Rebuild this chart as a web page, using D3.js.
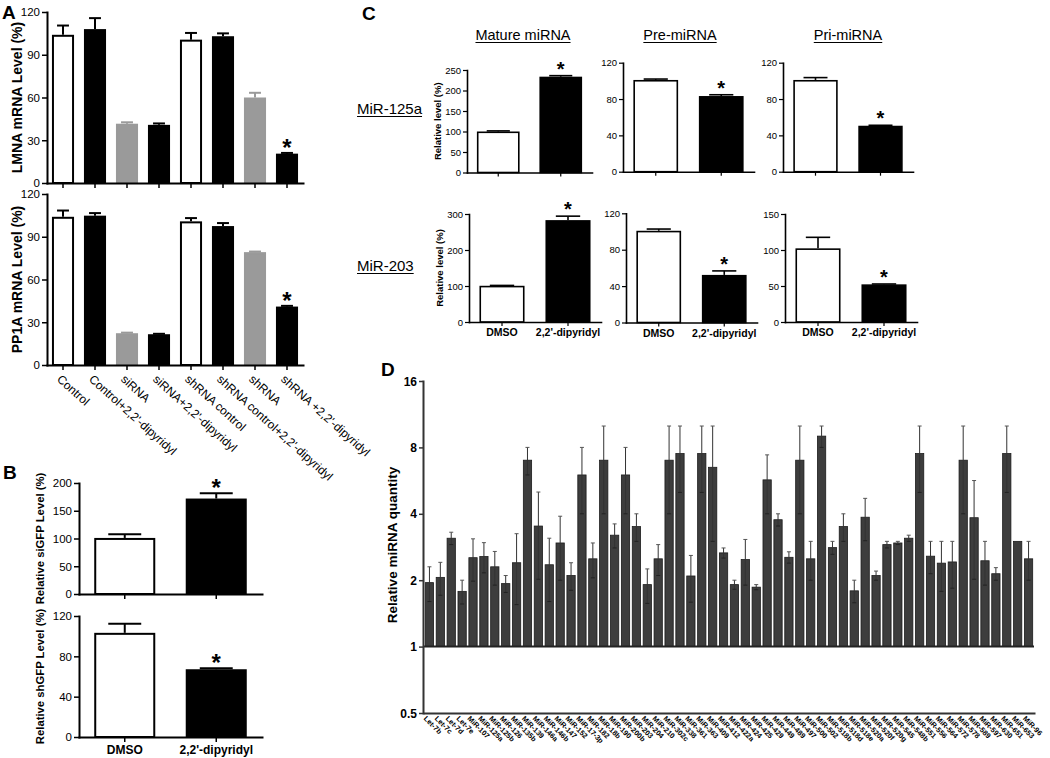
<!DOCTYPE html>
<html>
<head>
<meta charset="utf-8">
<script src="https://cdn.jsdelivr.net/npm/d3@7"></script>
<style>
body { margin: 0; background: #fff; }
svg { display: block; font-family: "Liberation Sans", Arial, Helvetica, sans-serif; }
</style>
</head>
<body>
<svg id="fig" width="1050" height="758"></svg>
<script>

// ---- panel A : knockdown groups
var aLabels = ["Control", "Control+2,2'-dipyridyl", "siRNA", "siRNA+2,2'-dipyridyl",
               "shRNA control", "shRNA control+2,2'-dipyridyl", "shRNA", "shRNA +2,2'-dipyridyl"];
var aKind   = ["open", "solid", "grey", "solid", "open", "solid", "grey", "solid"];
var aStar   = [0, 0, 0, 0, 0, 0, 0, 1];
var lmnaMean = [104, 108, 41.6, 40.8, 100.6, 103, 60, 20.6];
var lmnaSem  = [6.5, 7.7, 1, 1, 4.7, 2, 3.3, 0.5];
var pp1aMean = [104, 104.8, 22.3, 21.6, 100.8, 97.5, 79.2, 41];
var pp1aSem  = [4.4, 1.8, 0.4, 0.3, 2.3, 2.1, 0.4, 0.5];

// ---- panel B / C : DMSO vs 2,2'-dipyridyl
var treatLabels = ["DMSO", "2,2'-dipyridyl"];
var treatKind   = ["open", "solid"];
var treatStar   = [0, 1];
var siGfpMean = [101, 172],   siGfpSem = [6.5, 9.5];
var shGfpMean = [103.3, 67.2], shGfpSem = [9, 1];

var mature125aMean = [100, 233.7], mature125aSem = [1.5, 2.5];
var pre125aMean    = [101, 83.3],  pre125aSem    = [1, 1.4];
var pri125aMean    = [101, 50.6],  pri125aSem    = [2.6, 0.5];
var mature203Mean  = [100.6, 283], mature203Sem  = [1, 11];
var pre203Mean     = [100.8, 52.3], pre203Sem    = [1.9, 4.4];
var pri203Mean     = [102.3, 52.3], pri203Sem    = [15.3, 0.5];

// ---- panel D : miRNA screen
var mirNames = ["Let-7b","Let-7c","Let-7d","Let-7e","MiR-107","MiR-125a","MiR-125b","MiR-126","MiR-135b","MiR-139",
  "MiR-146a","MiR-146b","MiR-147","MiR-152","MiR-17-3p","MiR-182","MiR-18b","MiR-190","MiR-200b","MiR-203",
  "MiR-204","MiR-210","MiR-302c","MiR-338","MiR-361","MiR-363","MiR-409","MiR-412","MiR-422a","MiR-424",
  "MiR-425","MiR-429","MiR-449","MiR-489","MiR-497","MiR-500","MiR-502","MiR-518b","MiR-518d","MiR-518e",
  "MiR-520a","MiR-520f","MiR-520g","MiR-545","MiR-548b","MiR-551","MiR-556","MiR-564","MiR-572","MiR-578",
  "MiR-589","MiR-597","MiR-630","MiR-651","MiR-653","MiR-96"];
var mirQty = [1.95,2.06,3.1,1.78,2.53,2.56,2.3,1.93,2.4,7.0,
  3.52,2.35,2.95,2.1,6.0,2.5,7.0,3.2,6.0,3.5,
  1.91,2.5,7.0,7.5,2.09,7.5,6.5,2.66,1.91,2.48,
  1.86,5.7,3.76,2.54,7.0,2.5,9.0,2.81,3.5,1.79,
  3.86,2.1,2.9,2.95,3.1,7.5,2.57,2.39,2.42,7.0,
  3.84,2.45,2.14,7.5,3.0,2.5];
var mirSem = [0.35,0.35,0.2,0.22,0.55,0.4,0.4,0.17,0.85,1.0,
  1.5,0.75,0.95,0.3,2.0,0.45,3.0,0.4,2.0,0.5,
  0.34,0.4,3.0,2.5,0.5,2.5,3.5,0.14,0.09,0.58,
  0.05,1.7,0.24,0.15,3.0,0.5,1.0,0.19,0.5,0.21,
  0.84,0.1,0.1,0.05,0.1,2.5,0.43,0.61,0.58,3.0,
  1.82,0.55,0.14,2.5,0,0.5];


var svg = d3.select("#fig");
var fills = {open: "#fff", solid: "#000", grey: "#9a9a9a"};
var lines = {open: "#000", solid: "#000", grey: "#9a9a9a"};


function barChart(o) {
    var g = svg.append("g");
    var sw = o.sw;
    var x = d3.scaleBand().domain(d3.range(o.mean.length))
              .range(o.xr).paddingInner(o.pad).paddingOuter(o.pad / 2);
    var y = d3.scaleLinear().domain([0, o.max]).range(o.yr);
    var rows = o.mean.map((m, i) => ({i: i, m: m, s: o.sem[i], k: o.kind[i], star: o.star[i]}));
    var cx = d => x(d.i) + x.bandwidth() / 2;
    var cap = x.bandwidth() * 0.27;

    // error bars, upper half only
    var eb = g.append("g").selectAll("g").data(rows).join("g")
              .attr("stroke", d => lines[d.k]).attr("stroke-width", sw);
    eb.append("line").attr("x1", cx).attr("x2", cx)
      .attr("y1", d => y(d.m)).attr("y2", d => y(d.m + d.s));
    eb.append("line").attr("x1", d => cx(d) - cap).attr("x2", d => cx(d) + cap)
      .attr("y1", d => y(d.m + d.s)).attr("y2", d => y(d.m + d.s));

    g.append("g").selectAll("rect").data(rows).join("rect")
      .attr("x", d => x(d.i) + sw / 2)
      .attr("width", x.bandwidth() - sw)
      .attr("y", d => y(d.m) + sw / 2)
      .attr("height", d => y(0) - y(d.m) - sw / 2)
      .attr("fill", d => fills[d.k])
      .attr("stroke", d => lines[d.k])
      .attr("stroke-width", sw);

    g.append("g").selectAll("text").data(rows.filter(d => d.star)).join("text")
      .attr("x", cx).attr("y", d => y(d.m + d.s) + o.starDy)
      .attr("text-anchor", "middle").attr("font-weight", "bold")
      .attr("font-size", o.starSize).text("*");

    var ya = g.append("g").attr("transform", `translate(${o.xr[0]},0)`)
              .call(d3.axisLeft(y).tickValues(o.ticks).tickSize(o.tick).tickSizeOuter(0).tickPadding(2));
    var xa = g.append("g").attr("transform", `translate(0,${o.yr[0]})`)
              .call(d3.axisBottom(x).tickSize(o.tick).tickSizeOuter(0)
                      .tickFormat(o.labels ? (d => o.labels[d]) : ""));

    [ya, xa].forEach(a => {
        a.attr("font-family", null).attr("font-size", o.fs);
        a.select(".domain").attr("stroke-width", o.aw).attr("stroke-linecap", "square");
        a.selectAll(".tick line").attr("stroke-width", o.aw * 0.75);
        a.selectAll("text").attr("fill", "#000");
    });
    ya.selectAll("text").attr("font-size", o.fs).attr("dy", "0.34em");

    if (o.labels) {
        var t = xa.selectAll("text").attr("font-size", o.xfs).attr("font-weight", o.xbold ? "bold" : null);
        if (o.rotate) {
            t.attr("x", 0).attr("y", 0).attr("dy", "0.6em")
             .attr("text-anchor", "start")
             .attr("transform", `translate(-2,${o.tick + 5}) rotate(${o.rotate})`);
        } else {
            t.attr("y", o.tick + 3);
        }
    }

    if (o.ylabel) {
        svg.append("text")
           .attr("transform", `translate(${o.ylabelX},${(o.yr[0] + o.yr[1]) / 2}) rotate(-90)`)
           .attr("text-anchor", "middle").attr("dy", "0.35em")
           .attr("font-weight", "bold").attr("font-size", o.yfs)
           .text(o.ylabel);
    }
}

function panelLetter(t, x, y) {
    svg.append("text").attr("x", x).attr("y", y).attr("font-weight", "bold")
       .attr("font-size", 19).text(t);
}

function underlined(t, x, y, size, anchor) {
    var txt = svg.append("text").attr("x", x).attr("y", y).attr("font-size", size)
                 .attr("text-anchor", anchor).text(t);
    var w = txt.node().getComputedTextLength();
    var x0 = anchor == "middle" ? x - w / 2 : x;
    svg.append("line").attr("x1", x0).attr("x2", x0 + w)
       .attr("y1", y + 2.5).attr("y2", y + 2.5).attr("stroke", "#000").attr("stroke-width", 1.2);
}


// ---------------- A
panelLetter("A", 2, 19);
var aBase = {xr: [47, 303], pad: 0.31, kind: aKind, star: aStar, sw: 2, aw: 2, tick: 5,
             fs: 11.5, max: 120, ticks: [0, 30, 60, 90, 120], starDy: 3, starSize: 24,
             ylabelX: 17, yfs: 14};
barChart(Object.assign({}, aBase, {mean: lmnaMean, sem: lmnaSem, yr: [183, 12],
                                   ylabel: "LMNA mRNA Level (%)"}));
barChart(Object.assign({}, aBase, {mean: pp1aMean, sem: pp1aSem, yr: [365, 194],
                                   ylabel: "PP1A mRNA Level (%)",
                                   labels: aLabels, xfs: 12, rotate: 42}));

// ---------------- B
panelLetter("B", 3, 479);
var bBase = {xr: [79, 262], pad: 0.333, kind: treatKind, star: treatStar, sw: 2, aw: 2, tick: 5,
             fs: 11.5, starDy: 3, starSize: 24, ylabelX: 40, yfs: 11.3};
barChart(Object.assign({}, bBase, {mean: siGfpMean, sem: siGfpSem, yr: [594, 483], max: 200,
                                   ticks: [0, 50, 100, 150, 200], ylabel: "Relative siGFP Level (%)"}));
barChart(Object.assign({}, bBase, {mean: shGfpMean, sem: shGfpSem, yr: [737, 616], max: 120,
                                   ticks: [0, 40, 80, 120], ylabel: "Relative shGFP Level (%)",
                                   labels: treatLabels, xfs: 12, xbold: true}));

// ---------------- C
panelLetter("C", 362, 20);
underlined("Mature miRNA", 523, 40, 14.5, "middle");
underlined("Pre-miRNA", 680, 40, 14.5, "middle");
underlined("Pri-miRNA", 848, 40, 14.5, "middle");
underlined("MiR-125a", 357, 114, 15, "start");
underlined("MiR-203", 357, 271, 15, "start");

var cBase = {pad: 0.317, kind: treatKind, star: treatStar, sw: 1.6, aw: 1.6, tick: 4,
             fs: 9.5, starDy: 0, starSize: 20, ylabelX: 438, yfs: 9.5};
barChart(Object.assign({}, cBase, {xr: [467, 592], yr: [172.5, 70], max: 250, ticks: [0, 50, 100, 150, 200, 250],
                                   mean: mature125aMean, sem: mature125aSem, ylabel: "Relative level (%)"}));
barChart(Object.assign({}, cBase, {xr: [623, 754], yr: [171.7, 62.7], max: 120, ticks: [0, 40, 80, 120],
                                   mean: pre125aMean, sem: pre125aSem}));
barChart(Object.assign({}, cBase, {xr: [783, 913], yr: [171.7, 62.7], max: 120, ticks: [0, 40, 80, 120],
                                   mean: pri125aMean, sem: pri125aSem}));
barChart(Object.assign({}, cBase, {xr: [469, 601], yr: [322, 214], max: 300, ticks: [0, 100, 200, 300],
                                   mean: mature203Mean, sem: mature203Sem, ylabel: "Relative level (%)", ylabelX: 440,
                                   labels: treatLabels, xfs: 10.5, xbold: true}));
barChart(Object.assign({}, cBase, {xr: [626, 757], yr: [322.5, 213.3], max: 120, ticks: [0, 40, 80, 120],
                                   mean: pre203Mean, sem: pre203Sem, labels: treatLabels, xfs: 10.5, xbold: true}));
barChart(Object.assign({}, cBase, {xr: [785, 917], yr: [322, 214], max: 150, ticks: [0, 50, 100, 150],
                                   mean: pri203Mean, sem: pri203Sem, labels: treatLabels, xfs: 10.5, xbold: true}));

// ---------------- D
panelLetter("D", 381, 376);

var dx = d3.scaleBand().domain(mirNames).range([424, 1034]).paddingInner(0.24).paddingOuter(0.12);
var dy = d3.scaleLog().base(2).domain([0.5, 16]).range([713, 381]);
var dRows = mirNames.map((n, i) => ({n: n, v: mirQty[i], s: mirSem[i]}));
var dcx = d => dx(d.n) + dx.bandwidth() / 2;

var gD = svg.append("g");
gD.append("g").selectAll("rect").data(dRows).join("rect")
  .attr("x", d => dx(d.n)).attr("width", dx.bandwidth())
  .attr("y", d => dy(d.v)).attr("height", d => dy(1) - dy(d.v))
  .attr("fill", "#3d3d3d").attr("stroke", "#1c1c1c").attr("stroke-width", 0.8);

var dErr = gD.append("g").attr("stroke", "#333").attr("stroke-width", 1)
             .selectAll("g").data(dRows.filter(d => d.s > 0)).join("g");
dErr.append("line").attr("x1", dcx).attr("x2", dcx)
    .attr("y1", d => dy(d.v - d.s)).attr("y2", d => dy(d.v + d.s));
dErr.append("line").attr("x1", d => dcx(d) - 2).attr("x2", d => dcx(d) + 2)
    .attr("y1", d => dy(d.v + d.s)).attr("y2", d => dy(d.v + d.s)).attr("stroke", "#555");
dErr.append("line").attr("x1", d => dcx(d) - 2).attr("x2", d => dcx(d) + 2)
    .attr("y1", d => dy(d.v - d.s)).attr("y2", d => dy(d.v - d.s)).attr("stroke", "#222");

// reference line at 1
gD.append("line").attr("x1", 423).attr("x2", 1034).attr("y1", dy(1)).attr("y2", dy(1))
  .attr("stroke", "#222").attr("stroke-width", 2);

var dya = gD.append("g").attr("transform", "translate(423,0)")
            .call(d3.axisLeft(dy).tickValues([0.5, 1, 2, 4, 8, 16]).tickFormat(d => d)
                    .tickSize(4).tickSizeOuter(0).tickPadding(2));
var dxa = gD.append("g").attr("transform", `translate(0,${dy(0.5)})`)
            .call(d3.axisBottom(dx).tickSize(0).tickSizeOuter(0));
[dya, dxa].forEach(a => {
    a.attr("font-family", null);
    a.select(".domain").attr("stroke", "#333").attr("stroke-width", 2).attr("stroke-linecap", "square");
    a.selectAll(".tick line").attr("stroke", "#333").attr("stroke-width", 1.5);
    a.selectAll("text").attr("fill", "#000").attr("font-weight", "bold");
});
dya.selectAll("text").attr("font-size", 12).attr("dy", "0.34em");
dxa.selectAll("text").attr("font-size", 7.3)
   .attr("x", 0).attr("y", 0).attr("dy", "0.6em").attr("text-anchor", "start")
   .attr("transform", "translate(-3,3) rotate(45)");

svg.append("text")
   .attr("transform", "translate(392,545) rotate(-90)")
   .attr("text-anchor", "middle").attr("dy", "0.35em")
   .attr("font-weight", "bold").attr("font-size", 13.5)
   .text("Relative miRNA quantity");

</script>
</body>
</html>
